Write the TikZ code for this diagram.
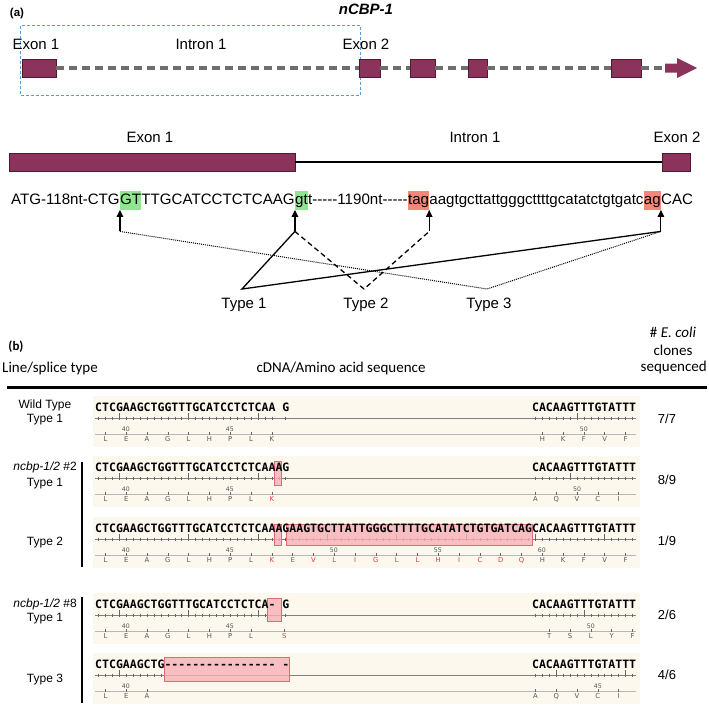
\documentclass[tikz,border=0pt]{standalone}
\usepackage{fontspec}
\setmainfont{Liberation Sans}
\newfontfamily\calib{Carlito}
\newfontfamily\seqf{DejaVu Sans Mono}
\newfontfamily\aaf{DejaVu Sans}
\usetikzlibrary{arrows.meta}
\definecolor{exon}{HTML}{8B335A}
\definecolor{exonb}{HTML}{4E1A32}
\definecolor{dgray}{HTML}{6E6E6E}
\definecolor{dblue}{HTML}{5B9BD5}
\definecolor{hlg}{HTML}{8EE68E}
\definecolor{hlr}{HTML}{F2877A}
\definecolor{cream}{HTML}{FCF8EE}
\definecolor{boxf}{HTML}{F7B0B6}
\definecolor{boxd}{HTML}{E06A76}
\definecolor{aared}{HTML}{E03A3A}
\definecolor{aagray}{HTML}{555555}
\definecolor{tickc}{HTML}{666666}
\definecolor{rulc}{HTML}{808080}
\definecolor{axc}{HTML}{B8B8B8}
\newcommand\hy{\mbox{-}}
\newcommand\rd{\color{aared}}
\def\pp{6.935}
\newcommand\Lt[2]{\foreach \i in {#2}{\draw[tk] ({95+(\i-0.5)*\pp},#1+9.5) -- ++(0,3);}}
\newcommand\LT[2]{\foreach \i in {#2}{\draw[tk] ({95+(\i-0.5)*\pp},#1+6) -- ++(0,6.5);}}
\newcommand\Rt[2]{\foreach \i in {#2}{\draw[tk] ({531.9+(\i-0.5)*\pp},#1+9.5) -- ++(0,3);}}
\newcommand\RT[2]{\foreach \i in {#2}{\draw[tk] ({531.9+(\i-0.5)*\pp},#1+6) -- ++(0,6.5);}}
\newcommand\rowbg[1]{\fill[cream] (93,#1-11) rectangle (640,#1+40);
  \draw[rul] (95,#1+11) -- (636,#1+11);
  \draw[axl] (95,#1+27.5) -- (636,#1+27.5);}
% y0, start x, offset in bases, list
\newcommand\AAL[4]{\foreach \aaname [count=\i from 0] in {#4}{%
  \node[aal] at ({#2+(3*\i+#3)*\pp},#1+32.5) {\aaname};
  \draw[tk] ({#2+(3*\i+#3)*\pp},#1+25) -- ++(0,2.5);}}
\newcommand\NUM[3]{\node[numl] at (#2,#1+22) {#3};}
\tikzset{
  gbox/.style={draw=exonb, fill=exon, line width=0.6pt, inner sep=0pt},
  gdash/.style={draw=dgray, line width=3.5pt, dash pattern=on 8pt off 5pt},
  lblA/.style={font=\fontsize{15}{18}\selectfont, inner sep=0pt},
  sqa/.style={font=\fontsize{15.1}{18}\selectfont, inner xsep=0pt, inner ysep=2.5pt, text height=11pt, text depth=3.2pt, anchor=base west},
  uparr/.style={line width=1.2pt, -{Triangle[length=7pt,width=6.5pt]}},
  l1/.style={line width=1.3pt},
  l2/.style={line width=1.3pt, dash pattern=on 5pt off 3.5pt},
  l3/.style={line width=1pt, dash pattern=on 1pt off 1pt},
  hdr/.style={font=\calib\fontsize{15}{17}\selectfont, inner sep=0pt},
  rl/.style={font=\fontsize{12}{14}\selectfont, inner sep=0pt},
  cnt/.style={font=\fontsize{13}{15}\selectfont, inner sep=0pt},
  sq/.style={font=\seqf\bfseries\fontsize{11.52}{13}\selectfont, inner sep=0pt, anchor=base west},
  aal/.style={font=\aaf\fontsize{6.8}{8}\selectfont, text=aagray, inner sep=0pt},
  numl/.style={font=\aaf\fontsize{6.2}{7}\selectfont, text=aagray, inner sep=0pt},
  tk/.style={draw=tickc, line width=0.5pt},
  rul/.style={draw=rulc, line width=0.8pt},
  axl/.style={draw=axc, line width=0.5pt},
  mbox/.style={fill=boxf, draw=boxd, line width=0.6pt, fill opacity=0.8},
}
\begin{document}
\begin{tikzpicture}[x=1pt,y=-1pt]
\useasboundingbox (0,0) rectangle (709,705);
\fill[white] (0,0) rectangle (709,705);
% ---------- (a) top gene model
\node[font=\bfseries\fontsize{11.5}{13}\selectfont, inner sep=0pt] (la) at (17,14) {(a)};
\node[font=\bfseries\itshape\fontsize{15}{18}\selectfont, inner sep=0pt] (title) at (366,9) {nCBP-1};
\node[draw=dblue, line width=0.8pt, dash pattern=on 3pt off 2pt, minimum width=339.5pt, minimum height=70pt, inner sep=0pt] (zr) at (190.25,60) {};
\node[lblA] (tx1) at (36,44) {Exon 1};
\node[lblA] (ti1) at (201,44) {Intron 1};
\node[lblA] (tx2) at (366,44) {Exon 2};
\node[gbox, minimum width=34pt, minimum height=18pt] (x1) at (39,68) {};
\node[gbox, minimum width=21pt, minimum height=18pt] (x2) at (369.5,68) {};
\node[gbox, minimum width=25pt, minimum height=18pt] (x3) at (422.5,68) {};
\node[gbox, minimum width=19pt, minimum height=18pt] (x4) at (477.5,68) {};
\node[gbox, minimum width=30pt, minimum height=18pt] (x5) at (626,68) {};
\coordinate (arw) at (665,68);
\fill[exon] (665,63.5) -- (677,63.5) -- (677,58) -- (697,68) -- (677,78) -- (677,72.5) -- (665,72.5) -- cycle;
\draw[gdash] (x1.east) -- (x2.west);
\draw[gdash] (x2.east) -- (x3.west);
\draw[gdash] (x3.east) -- (x4.west);
\draw[gdash] (x4.east) -- (x5.west);
\draw[gdash] (x5.east) -- (arw);
% ---------- (a) zoomed exon1-intron1-exon2
\node[lblA] (bx1) at (150,137) {Exon 1};
\node[lblA] (bi1) at (475,137) {Intron 1};
\node[lblA] (bx2) at (677,137) {Exon 2};
\node[gbox, minimum width=286pt, minimum height=18pt] (E1) at (152,162) {};
\node[gbox, minimum width=28pt, minimum height=18pt] (E2) at (676,162) {};
\draw[line width=1.8pt] (E1.east) -- (E2.west);
% sequence
\node[sqa] (p1) at (11,204) {ATG-118nt-CTG};
\node[sqa, fill=hlg] (p2) at (p1.base east) {GT};
\node[sqa] (p3) at (p2.base east) {TTGCATCCTCTCAAG};
\node[sqa, fill=hlg] (p4) at (p3.base east) {gt};
\node[sqa] (p5) at (p4.base east) {t\hy\hy\hy\hy\hy1190nt\hy\hy\hy\hy\hy};
\node[sqa, fill=hlr] (p6) at (p5.base east) {tag};
\node[sqa] (p7) at (p6.base east) {aagtgcttattgggcttttgcatatctgtgatc};
\node[sqa, fill=hlr] (p8) at (p7.base east) {ag};
\node[sqa] (p9) at (p8.base east) {CAC};
\path (p2.south west) ++(0,21.5) coordinate (b1);
\path (p4.south west) ++(0,21.5) coordinate (b2);
\path (p6.south east) ++(0,21.5) coordinate (b3);
\path (p8.south east) ++(0,21.5) coordinate (b4);
\draw[uparr] (b1) -- (p2.south west);
\draw[uparr] (b2) -- (p4.south west);
\draw[uparr] (b3) -- (p6.south east);
\draw[uparr] (b4) -- (p8.south east);
\coordinate (t1) at (242,289);
\coordinate (t2) at (364,289);
\coordinate (t3) at (487,289);
\draw[l3] (b1) -- (t3) -- (b4);
\draw[l2] (b2) -- (t2) -- (b3);
\draw[l1] (b2) -- (t1) -- (b4);
\node[lblA] (ty1) at (244,305) {Type 1};
\node[lblA] (ty2) at (366,305) {Type 2};
\node[lblA] (ty3) at (489,305) {Type 3};
% ---------- (b) header
\node[font=\calib\bfseries\fontsize{13}{15}\selectfont, inner sep=0pt] (lb) at (16,347) {(b)};
\node[hdr] (h3a) at (673,332) {\# \textit{E. coli}};
\node[hdr] (h3b) at (673,350) {clones};
\node[hdr, anchor=east] (h3c) at (707,367) {sequenced};
\node[hdr, anchor=west] (h1) at (2,368) {Line/splice type};
\node[hdr] (h2) at (341,368) {cDNA/Amino acid sequence};
\draw[line width=3pt] (7,387) -- (707,387);
% ---------- row backgrounds and rulers
\rowbg{407}\rowbg{467}\rowbg{528}\rowbg{604}\rowbg{664}
% WT
\Lt{407}{1,...,26,28}\LT{407}{4,14,24}\Rt{407}{1,...,15}\RT{407}{7}
% #2 type1
\Lt{467}{1,...,28}\LT{467}{4,14,24}\Rt{467}{1,...,15}\RT{467}{6}
% #2 type2
\Lt{528}{1,...,63}\LT{528}{4,14,24,34,44,54}\Rt{528}{1,...,15}\RT{528}{1,11}
% #8 type1
\Lt{604}{1,...,25,28}\LT{604}{4,14,24}\Rt{604}{1,...,15}\RT{604}{8}
% #8 type3
\Lt{664}{1,...,10}\LT{664}{4}\Rt{664}{1,...,15}\RT{664}{4,14}
% boxes
\draw[mbox] (273.8,461) rectangle (281.7,485);
\draw[mbox] (273.8,524) rectangle (281.7,545);
\draw[mbox] (286.5,524) rectangle (532.4,545);
\draw[mbox] (266.9,598) rectangle (281.7,621);
\draw[mbox] (163.9,657) rectangle (289.7,681);
% sequences
\node[sq] (s1l) at (95,411.2) {CTCGAAGCTGGTTTGCATCCTCTCAA\phantom{A}G};
\node[sq] (s1r) at (531.9,411.2) {CACAAGTTTGTATTT};
\node[sq] (s2l) at (95,471.2) {CTCGAAGCTGGTTTGCATCCTCTCAAAG};
\node[sq] (s2r) at (531.9,471.2) {CACAAGTTTGTATTT};
\node[sq] (s3) at (95,532.2) {CTCGAAGCTGGTTTGCATCCTCTCAAAGAAGTGCTTATTGGGCTTTTGCATATCTGTGATCAGCACAAGTTTGTATTT};
\node[sq] (s4l) at (95,608.2) {CTCGAAGCTGGTTTGCATCCTCTCA\hy\phantom{A}G};
\node[sq] (s4r) at (531.9,608.2) {CACAAGTTTGTATTT};
\node[sq] (s5l) at (95,668.2) {CTCGAAGCTG\hy\hy\hy\hy\hy\hy\hy\hy\hy\hy\hy\hy\hy\hy\hy\hy\phantom{A}\hy};
\node[sq] (s5r) at (531.9,668.2) {CACAAGTTTGTATTT};
% amino acids
\AAL{407}{95}{1.5}{L,E,A,G,L,H,P,L,K}
\AAL{407}{531.9}{1.5}{H,K,F,V,F}
\NUM{407}{125.8}{40}\NUM{407}{229.8}{45}\NUM{407}{583.9}{50}
\AAL{467}{95}{1.5}{L,E,A,G,L,H,P,L,\rd K}
\AAL{467}{531.9}{0.5}{A,Q,V,C,I}
\NUM{467}{125.8}{40}\NUM{467}{229.8}{45}\NUM{467}{577.0}{50}
\AAL{528}{95}{1.5}{L,E,A,G,L,H,P,L,\rd K,\rd E,\rd V,\rd L,\rd I,\rd G,\rd L,\rd L,\rd H,\rd I,\rd C,\rd D,\rd Q,H,K,F,V,F}
\NUM{528}{125.8}{40}\NUM{528}{229.8}{45}\NUM{528}{333.8}{50}\NUM{528}{437.8}{55}\NUM{528}{541.8}{60}
\AAL{604}{95}{1.5}{L,E,A,G,L,H,P,L}
\node[aal, text=aared] (s8s) at (284.3,636.5) {S};
\draw[tk] (284.3,629) -- ++(0,2.5);
\AAL{604}{531.9}{2.5}{T,S,L,Y,F}
\NUM{604}{125.8}{40}\NUM{604}{229.8}{45}\NUM{604}{590.8}{50}
\AAL{664}{95}{1.5}{L,E,A}
\AAL{664}{531.9}{0.5}{A,Q,V,C,I}
\NUM{664}{125.8}{40}\NUM{664}{597.8}{45}
% labels
\node[rl] (r1a) at (45,405) {Wild Type};
\node[rl] (r1b) at (45,420) {Type 1};
\node[rl, anchor=east] (r2a) at (77,467) {\textit{ncbp-1/2} \#2};
\node[rl] (r2b) at (45,484) {Type 1};
\node[rl] (r3) at (45,543) {Type 2};
\node[rl, anchor=east] (r4a) at (77,604) {\textit{ncbp-1/2} \#8};
\node[rl] (r4b) at (45,619) {Type 1};
\node[rl] (r5) at (45,680) {Type 3};
\draw[line width=2.5pt] (82,462) -- (82,567);
\draw[line width=2.5pt] (82,597) -- (82,703);
% counts
\node[cnt] (c1) at (667,419) {7/7};
\node[cnt] (c2) at (667,480) {8/9};
\node[cnt] (c3) at (667,541) {1/9};
\node[cnt] (c4) at (667,615) {2/6};
\node[cnt] (c5) at (667,675) {4/6};
\end{tikzpicture}
\end{document}
